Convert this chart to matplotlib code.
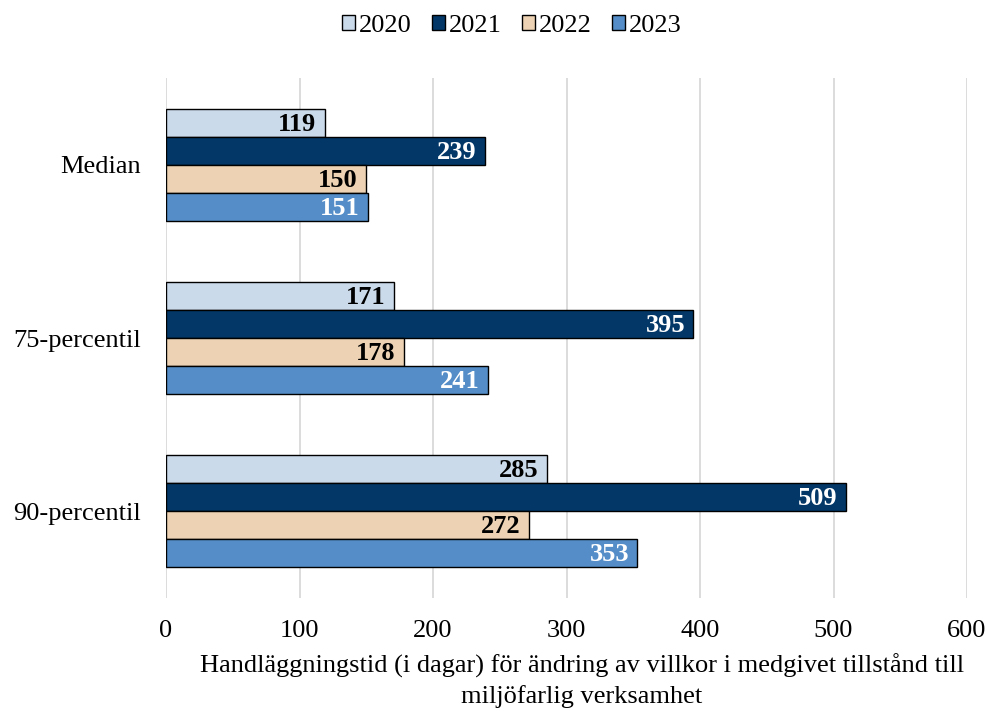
import matplotlib.pyplot as plt
import numpy as np

plt.rcParams['font.family'] = ['Liberation Serif', 'DejaVu Serif']

categories = ['Median', '75-percentil', '90-percentil']
years = ['2020', '2021', '2022', '2023']
values = {
    '2020': [119, 171, 285],
    '2021': [239, 395, 509],
    '2022': [150, 178, 272],
    '2023': [151, 241, 353],
}
colors = ['#CBDAEA', '#023768', '#EDD3B3', '#548DC8']
label_colors = ['black', 'white', 'black', 'white']

fig = plt.figure(figsize=(9.9, 7.11), dpi=100)
ax = fig.add_axes([0.1677, 0.1596, 0.8091, 0.73])

y = np.arange(len(categories))
h = 0.162
for i, yr in enumerate(years):
    pos = y + (i - 1.5) * h
    bars = ax.barh(pos, values[yr], height=h, color=colors[i], edgecolor='black',
                   linewidth=1.0, label=yr, zorder=3)
    for b, v in zip(bars, values[yr]):
        ax.annotate(str(v), (v, b.get_y() + b.get_height() / 2), xytext=(-6, -1),
                    textcoords='offset points', ha='right', va='center',
                    fontsize=19, fontweight='bold', color=label_colors[i], zorder=4)

ax.set_ylim(2.5, -0.5)
ax.set_xlim(0, 600)
ax.set_xticks(range(0, 601, 100))
ax.set_yticks(y)
ax.set_yticklabels(categories, fontsize=19)
ax.tick_params(axis='x', labelsize=19, length=0, pad=16)
ax.tick_params(axis='y', length=0, pad=18)
ax.grid(axis='x', color='#D9D9D9', linewidth=1.3, zorder=0)
for s in ax.spines.values():
    s.set_visible(False)

ax.set_xlabel('Handläggningstid (i dagar) för ändring av villkor i medgivet tillstånd till\nmiljöfarlig verksamhet',
              fontsize=19, linespacing=1.4)
ax.xaxis.set_label_coords(0.519, -0.108, transform=ax.transAxes)
ax.xaxis.label.set_va('top')

fig.legend(*ax.get_legend_handles_labels(), loc='center', bbox_to_anchor=(0.517, 0.963),
           ncol=4, frameon=False, fontsize=19, handlelength=0.5, handleheight=0.5,
           handletextpad=0.15, columnspacing=0.75)

fig.savefig('out.png', dpi=100)
